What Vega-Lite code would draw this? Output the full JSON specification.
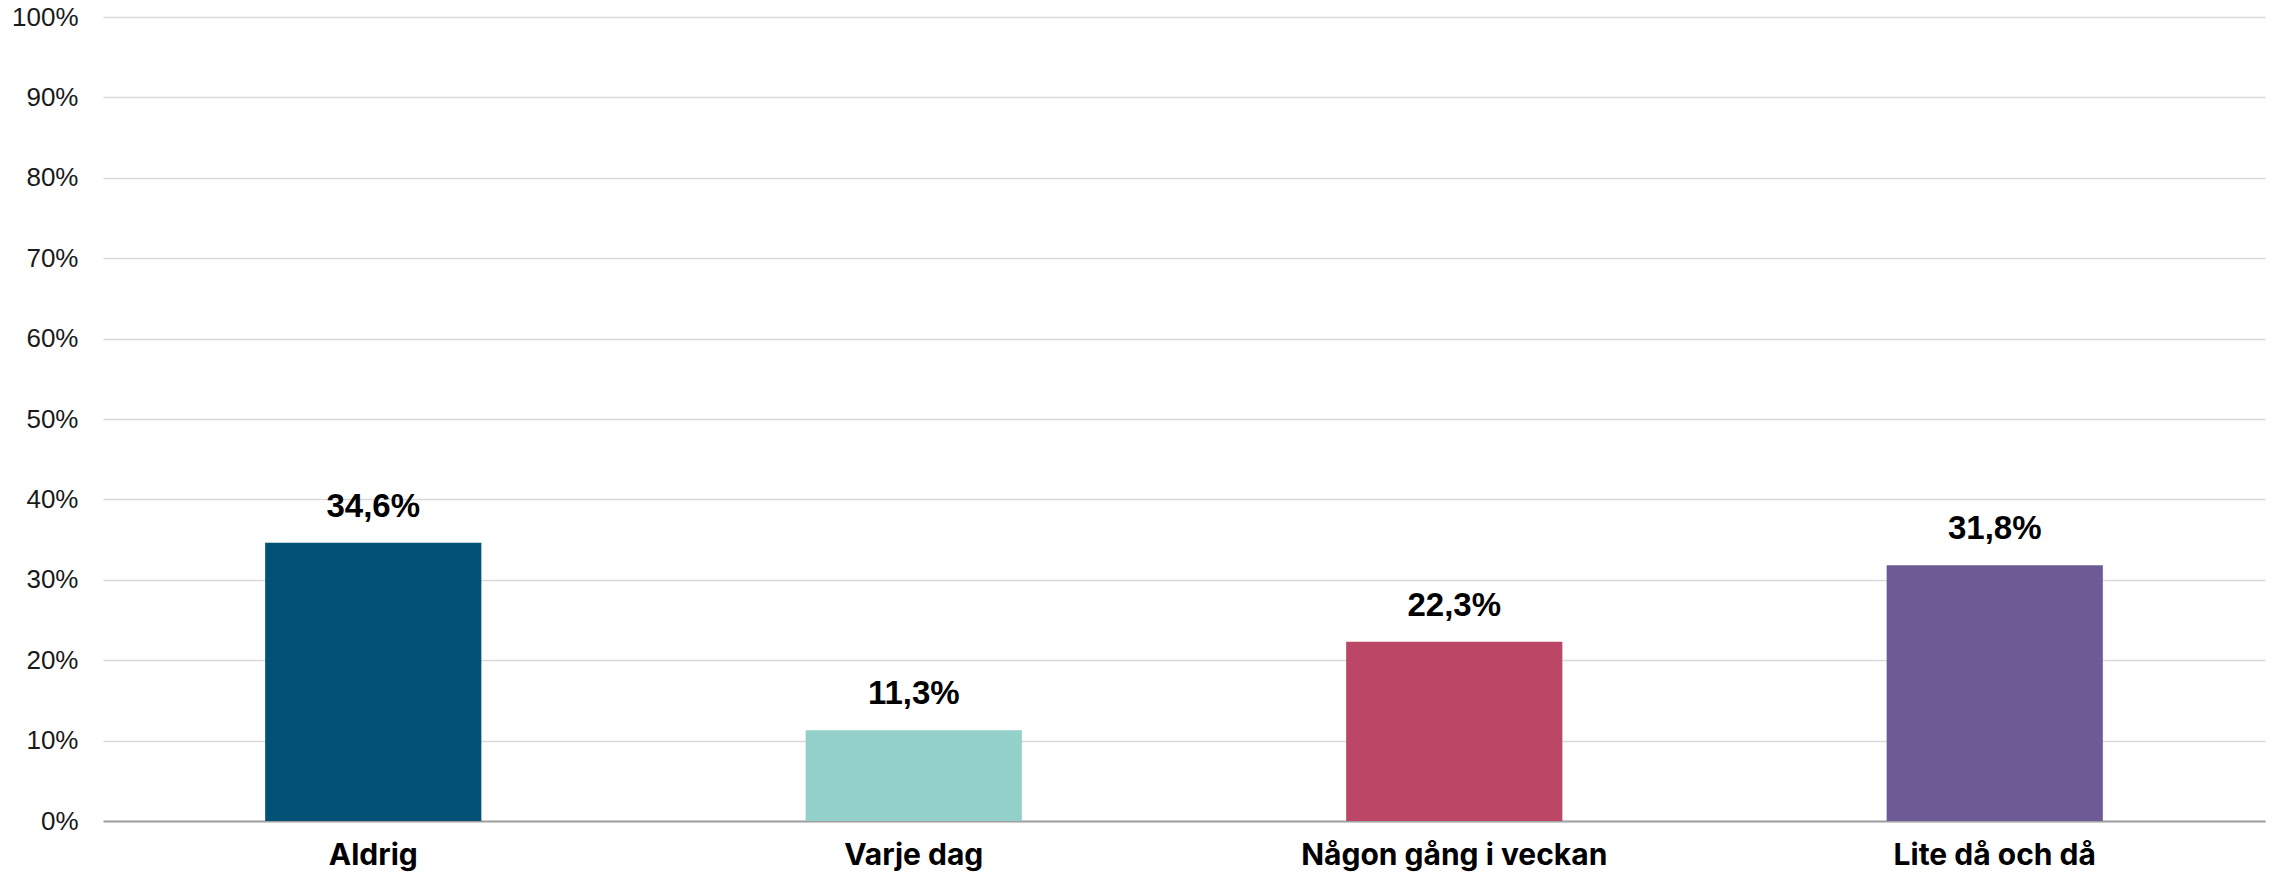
{
  "$schema": "https://vega.github.io/schema/vega-lite/v6.json",
  "width": 2162,
  "height": 804,
  "autosize": {"type": "none"},
  "padding": {"left": 103, "top": 17, "right": 12, "bottom": 58},
  "background": "white",
  "config": {
    "locale": {"number": {"decimal": ",", "thousands": " ", "grouping": [3], "currency": ["", " kr"], "percent": "%"}},
    "view": {"stroke": null},
    "font": "Liberation Sans"
  },
  "data": {
    "values": [
      {"kategori": "Aldrig", "andel": 0.346},
      {"kategori": "Varje dag", "andel": 0.113},
      {"kategori": "Någon gång i veckan", "andel": 0.223},
      {"kategori": "Lite då och då", "andel": 0.318}
    ]
  },
  "encoding": {
    "x": {
      "field": "kategori",
      "type": "nominal",
      "sort": null,
      "scale": {"paddingInner": 0.6, "paddingOuter": 0.3},
      "axis": {
        "title": null,
        "labelAngle": 0,
        "labelFont": "Inter",
        "labelFontWeight": "bold",
        "labelFontSize": 30,
        "labelColor": "#000000",
        "labelPadding": 19,
        "labelLimit": 0,
        "ticks": false,
        "domainColor": "#a0a0a0",
        "domainWidth": 2,
        "grid": false
      }
    },
    "y": {
      "field": "andel",
      "type": "quantitative",
      "scale": {"domain": [0, 1]},
      "axis": {
        "title": null,
        "format": ".0%",
        "values": [0, 0.1, 0.2, 0.3, 0.4, 0.5, 0.6, 0.7, 0.8, 0.9, 1],
        "labelFontSize": 26,
        "labelColor": "#1a1a1a",
        "labelPadding": 25,
        "ticks": false,
        "domain": false,
        "gridColor": "#d9d9d9",
        "gridWidth": 1.5
      }
    }
  },
  "layer": [
    {
      "mark": {"type": "bar"},
      "encoding": {
        "color": {
          "field": "kategori",
          "type": "nominal",
          "sort": null,
          "scale": {
            "domain": ["Aldrig", "Varje dag", "Någon gång i veckan", "Lite då och då"],
            "range": ["#035174", "#93d0c9", "#bb4665", "#6e5b95"]
          },
          "legend": null
        }
      }
    },
    {
      "mark": {"type": "text", "dy": -19, "baseline": "bottom", "fontSize": 33, "fontWeight": "bold", "font": "Liberation Sans", "color": "#000000"},
      "encoding": {
        "text": {"field": "andel", "type": "quantitative", "format": ".1%"}
      }
    }
  ]
}
